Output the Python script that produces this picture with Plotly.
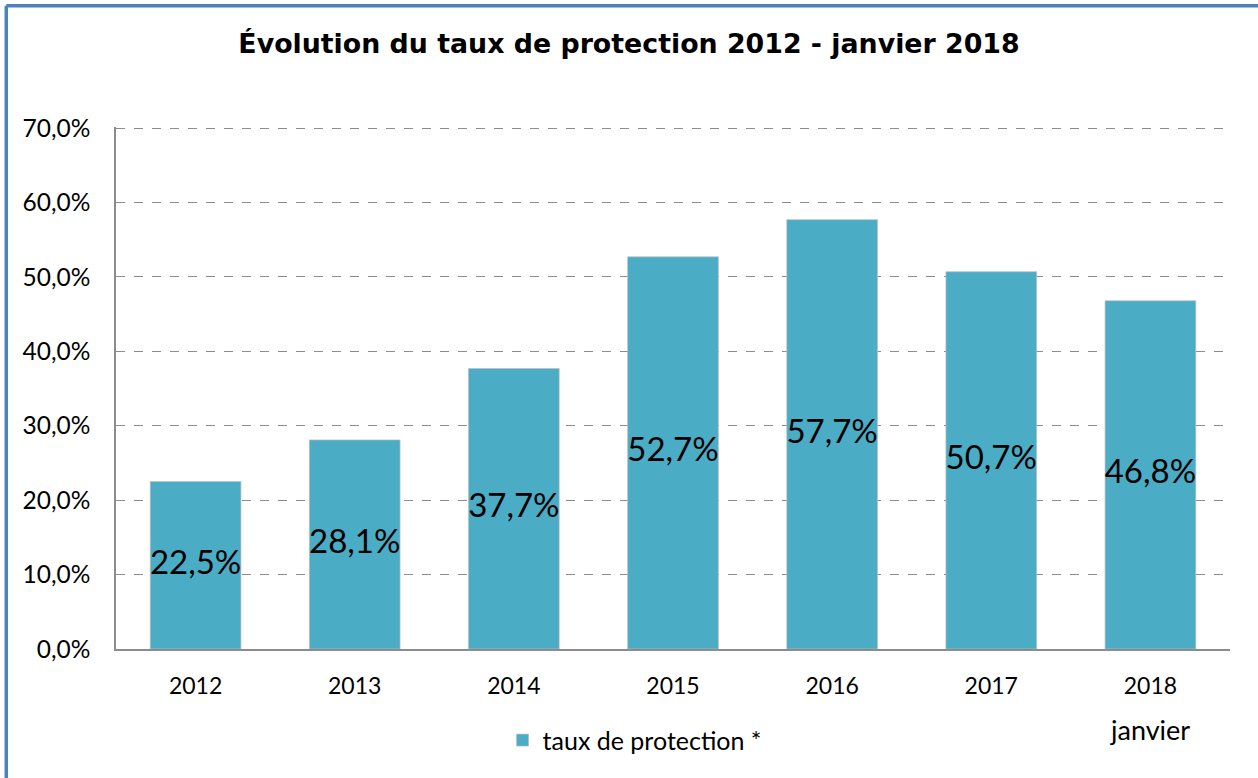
import plotly.graph_objects as go

categories = ["2012", "2013", "2014", "2015", "2016", "2017", "2018"]
values = [22.5, 28.1, 37.7, 52.7, 57.7, 50.7, 46.8]
y_ticks = [0, 10, 20, 30, 40, 50, 60, 70]
title_text = "Évolution du taux de protection 2012 - janvier 2018"
series_name = "taux de protection *"
extra_label = "janvier"

BAR = "#4BACC6"
FONT = "Lato, Calibri, Arial, sans-serif"


def pct(v):
    return f"{v:.1f}%".replace(".", ",")


fig = go.Figure()
fig.add_trace(go.Bar(
    x=categories, y=values, name=series_name,
    marker=dict(color=BAR, line=dict(color="rgba(190,190,190,0.7)", width=1)),
    width=0.57, hoverinfo="skip",
))
fig.add_trace(go.Scatter(
    x=categories, y=[v / 2 for v in values], mode="text",
    text=[pct(v) for v in values],
    textfont=dict(family=FONT, size=33, color="black"),
    textposition="middle center", showlegend=False, hoverinfo="skip",
))

fig.update_layout(
    width=1258, height=778,
    margin=dict(l=116, r=28, t=127, b=129),
    paper_bgcolor="white", plot_bgcolor="white",
    title=dict(text=f"<b>{title_text}</b>", x=0.5, xanchor="center",
               y=1 - 44 / 778, yanchor="middle",
               font=dict(family="DejaVu Sans, Verdana, sans-serif", size=26.8, color="black")),
    showlegend=True,
    legend=dict(orientation="h", x=0.347, xanchor="left", y=-0.175, yanchor="middle",
                font=dict(family=FONT, size=25, color="black"),
                bgcolor="rgba(0,0,0,0)", itemwidth=30),
    font=dict(family=FONT, color="black"),
)
fig.update_yaxes(
    range=[0, 70.15], tickvals=y_ticks, ticktext=[pct(t) for t in y_ticks],
    tickfont=dict(family=FONT, size=24.5, color="black"),
    showgrid=True, gridcolor="#8c8c8c", griddash="dash", gridwidth=1,
    showline=True, linecolor="#8c8c8c", linewidth=1.5,
    zeroline=False, ticks="", ticklabelstandoff=19,
)
fig.update_xaxes(
    type="category", categoryorder="array", categoryarray=categories,
    tickfont=dict(family=FONT, size=23, color="black"),
    showline=True, linecolor="#8c8c8c", linewidth=1.5,
    ticks="", showgrid=False, ticklabelstandoff=16,
)
# "janvier" under the last category (category index of 2018)
fig.add_annotation(x=categories.index("2018"), y=-0.155, xref="x", yref="paper",
                   yanchor="middle", text=extra_label, showarrow=False,
                   font=dict(family=FONT, size=27, color="black"))

# frame border (top and left, blue)
fig.add_shape(type="line", xref="paper", yref="paper",
              x0=-0.0985, x1=1.03, y0=1.2325, y1=1.2325,
              line=dict(color="#4F81BD", width=3.5))
fig.add_shape(type="line", xref="paper", yref="paper",
              x0=-0.0985, x1=-0.0985, y0=1.2325, y1=-0.26,
              line=dict(color="#4F81BD", width=3.5))

fig.write_html("out.html", config={"displayModeBar": False},
               post_script="document.body.style.margin='0';document.body.style.overflow='hidden';")
